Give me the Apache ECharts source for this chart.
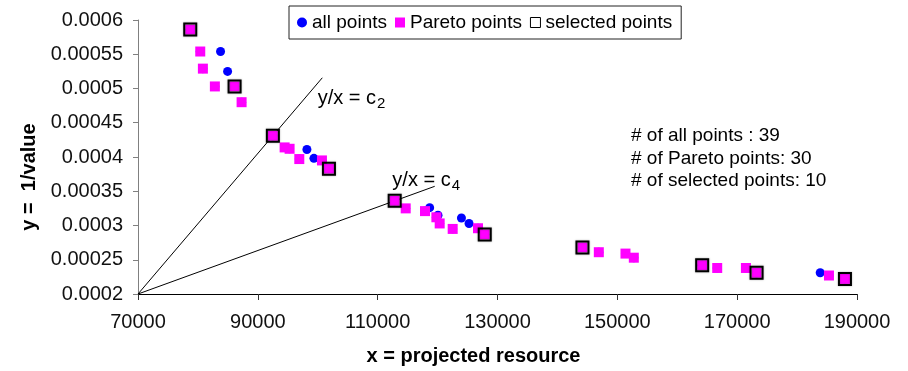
<!DOCTYPE html>
<html>
<head>
<meta charset="utf-8">
<script src="https://cdn.jsdelivr.net/npm/echarts@6/dist/echarts.min.js"></script>
<style>
  html, body { margin: 0; padding: 0; background: #fff; }
  #chart { width: 908px; height: 371px; }
</style>
</head>
<body>
<div id="chart"></div>
<script>
// Pareto-optimal points (x = projected resource, y = 1/value)
const paretoX = [78720, 80390, 80830, 82830, 86120, 87290, 92510, 94470, 95300, 96920,
                 100700, 101870, 112840, 114680, 117900, 119800, 120350, 122520, 126750, 127870,
                 144180, 146910, 151360, 152750, 164160, 166670, 171460, 173240, 185320, 187990];
const paretoY = [0.000586, 0.000554, 0.000529, 0.000503, 0.000503, 0.000480, 0.000431, 0.000414, 0.000412, 0.000397,
                 0.000395, 0.000383, 0.000336, 0.000325, 0.000321, 0.000312, 0.000303, 0.000295, 0.000296, 0.000287,
                 0.000268, 0.000261, 0.000259, 0.000253, 0.000242, 0.000238, 0.000238, 0.000231, 0.000227, 0.000222];

// Remaining (dominated) points
const otherX = [83780, 84950, 98190, 99360, 118680, 120070, 123980, 125250, 183860];
const otherY = [0.000554, 0.000525, 0.000411, 0.000398, 0.000326, 0.000315, 0.000311, 0.000303, 0.000231];

// Indices (into the Pareto arrays) of the selected points
const selectedIdx = [0, 4, 6, 11, 12, 19, 20, 24, 27, 29];

// Reference rays y/x = c drawn from the axis corner through a selected point
const rayThrough = [6, 12];
const rayEndX = [100760, 119520];
const rayNames = ['2', '4'];

const xTicks = { min: 70000, max: 190000, step: 20000 };
const yTicks = { min: 0.0002, max: 0.0006, step: 0.00005 };

const allX = paretoX.concat(otherX);
const allY = paretoY.concat(otherY);
const toPairs = (xs, ys) => xs.map((x, i) => [x, ys[i]]);

const corner = [xTicks.min, yTicks.min];
const rays = rayThrough.map((pi, k) => {
  const px = paretoX[pi], py = paretoY[pi];
  const slope = (py - corner[1]) / (px - corner[0]);
  return [corner, [rayEndX[k], corner[1] + slope * (rayEndX[k] - corner[0])]];
});

const FONT = 'Liberation Sans, Arial, sans-serif';
const chart = echarts.init(document.getElementById('chart'), null, { renderer: 'canvas' });

const rayLabelPos = [[99980, 0.000486], [112450, 0.000366]];

const raySeries = rays.map((pts, k) => ({
  type: 'line',
  data: pts,
  symbol: 'none',
  silent: true,
  lineStyle: { color: '#000', width: 1 },
  z: 1,
  markPoint: {
    symbol: 'circle',
    symbolSize: 0,
    silent: true,
    data: [{
      coord: rayLabelPos[k],
      label: {
        show: true,
        position: 'right',
        distance: 0,
        formatter: '{m|y/x = c}{s|' + rayNames[k] + '}',
        rich: {
          m: { fontFamily: FONT, fontSize: 20, color: '#000' },
          s: { fontFamily: FONT, fontSize: 15, color: '#000', padding: [12, 0, 0, 1] }
        }
      }
    }]
  }
}));

chart.setOption({
  animation: false,
  backgroundColor: '#fff',
  textStyle: { fontFamily: FONT },
  grid: { left: 138, right: 51, top: 20, bottom: 77 },
  legend: {
    left: 289, top: 6,
    padding: [7, 9, 7, 8],
    borderColor: '#222', borderWidth: 1,
    itemWidth: 10, itemHeight: 10, itemGap: 8,
    textStyle: { fontFamily: FONT, fontSize: 19, color: '#000' },
    data: [
      { name: 'all points', icon: 'circle' },
      { name: 'Pareto points', icon: 'rect' },
      { name: 'selected points', icon: 'rect', itemStyle: { color: '#fff', borderColor: '#000', borderWidth: 1 } }
    ]
  },
  xAxis: {
    type: 'value',
    min: xTicks.min, max: xTicks.max, interval: xTicks.step,
    name: 'x = projected resource',
    nameLocation: 'middle',
    nameGap: 52,
    nameTextStyle: { fontFamily: FONT, fontSize: 20, fontWeight: 'bold', color: '#000', padding: [0, 48, 0, 0] },
    axisLine: { lineStyle: { color: '#000', width: 1 } },
    axisTick: { show: true, length: 6, lineStyle: { color: '#333' } },
    axisLabel: { fontFamily: FONT, fontSize: 20, color: '#111', margin: 18, formatter: v => String(v) },
    splitLine: { show: false }
  },
  yAxis: {
    type: 'value',
    min: yTicks.min, max: yTicks.max, interval: yTicks.step,
    name: 'y =  1/value',
    nameLocation: 'middle',
    nameGap: 98,
    nameTextStyle: { fontFamily: FONT, fontSize: 20, fontWeight: 'bold', color: '#000', padding: [0, 40, 0, 0] },
    axisLine: { show: true, lineStyle: { color: '#808080', width: 1 } },
    axisTick: { show: true, length: 5, lineStyle: { color: '#808080' } },
    axisLabel: { fontFamily: FONT, fontSize: 20, color: '#111', margin: 15, formatter: v => String(+v.toPrecision(6)) },
    splitLine: { show: false }
  },
  series: [
    ...raySeries,
    {
      name: 'all points',
      type: 'scatter',
      data: toPairs(allX, allY),
      symbol: 'circle',
      symbolSize: 9,
      itemStyle: { color: '#0000ff', opacity: 1 },
      z: 2
    },
    {
      name: 'Pareto points',
      type: 'scatter',
      data: toPairs(paretoX, paretoY),
      symbol: 'rect',
      symbolSize: 10,
      itemStyle: { color: '#ff00ff', opacity: 1 },
      z: 3
    },
    {
      name: 'selected points',
      type: 'scatter',
      data: selectedIdx.map(i => [paretoX[i], paretoY[i]]),
      symbol: 'rect',
      symbolSize: 12,
      itemStyle: {
        color: 'rgba(0,0,0,0)', borderColor: '#000', borderWidth: 2, opacity: 1,
        shadowBlur: 2, shadowColor: 'rgba(0,0,0,0.35)'
      },
      z: 4
    }
  ],
  graphic: [{
    type: 'text',
    left: 631,
    top: 125,
    silent: true,
    style: {
      text: '# of all points : ' + allX.length +
            '\n# of Pareto points: ' + paretoX.length +
            '\n# of selected points: ' + selectedIdx.length,
      font: '19px ' + FONT,
      lineHeight: 22.5,
      fill: '#000'
    }
  }]
});
</script>
</body>
</html>
